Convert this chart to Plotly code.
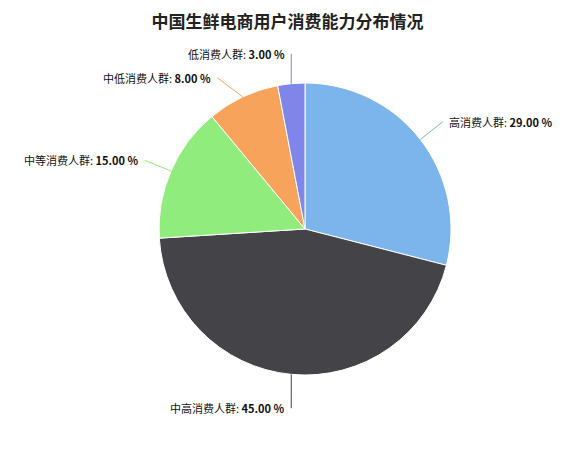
import math
import plotly.graph_objects as go

names = ['高消费人群', '中高消费人群', '中等消费人群', '中低消费人群', '低消费人群']
shares = [29, 45, 15, 8, 3]
colors = ['#7cb5ec', '#434348', '#90ed7d', '#f7a35c', '#8085e9']

# page body adds an 8px offset, so margins are shifted to compensate
off = 8
R = 146        # pie radius in px (plot area is 292 x 292)
dist = 32      # label distance outside the pie

fig = go.Figure(go.Pie(
    labels=names,
    values=shares,
    sort=False,
    direction='clockwise',
    rotation=0,
    marker=dict(colors=colors, line=dict(color='white', width=1)),
    textinfo='none',
    hoverinfo='label+percent',
    showlegend=False,
))

# outside labels with connector lines, placed from each slice's mid angle
total = sum(shares)
start = 0
items = []
for name, v, c in zip(names, shares, colors):
    mid = (start + v / 2) / total * 2 * math.pi
    start += v
    s, co = math.sin(mid), math.cos(mid)
    items.append(dict(name=name, v=v, c=c, s=s, co=co,
                      side=1 if s > 0 else -1, ty=-(R + dist) * co))

# keep labels on the same side from overlapping (push lower one down)
for side in (1, -1):
    group = sorted([it for it in items if it['side'] == side], key=lambda it: it['ty'])
    for a, b in zip(group, group[1:]):
        if b['ty'] - a['ty'] < 24:
            b['ty'] = a['ty'] + 24

annotations = []
for it in items:
    ty = it['ty']
    tx = it['side'] * math.sqrt(max((R + dist) ** 2 - ty ** 2, 0))
    hx, hy = R * it['s'], -R * it['co']
    annotations.append(dict(
        x=0.5 + 0.5 * it['s'], y=0.5 + 0.5 * it['co'],
        xref='paper', yref='paper',
        ax=tx - hx - it['side'] * 3, ay=ty - hy + 2,
        text='%s: <b>%.2f %%</b>' % (it['name'], it['v'] / total * 100),
        showarrow=True, arrowhead=0, arrowwidth=1, arrowcolor=it['c'],
        xanchor='left' if it['side'] > 0 else 'right', yanchor='middle',
        borderpad=5,
        font=dict(size=11, color='#111'),
    ))

fig.update_layout(
    width=575, height=457,
    margin=dict(l=159 - off, r=124 + off, t=83 - off, b=82 + off),
    paper_bgcolor='white',
    plot_bgcolor='white',
    font=dict(family='Noto Sans CJK SC, sans-serif'),
    title=dict(text='<b>中国生鲜电商用户消费能力分布情况</b>',
               x=(287.5 - off) / 575, xref='container', xanchor='center',
               y=1 - (22 - off) / 457, yref='container', yanchor='middle',
               font=dict(size=17, color='#222')),
    annotations=annotations,
)

fig.write_html('out.html')
